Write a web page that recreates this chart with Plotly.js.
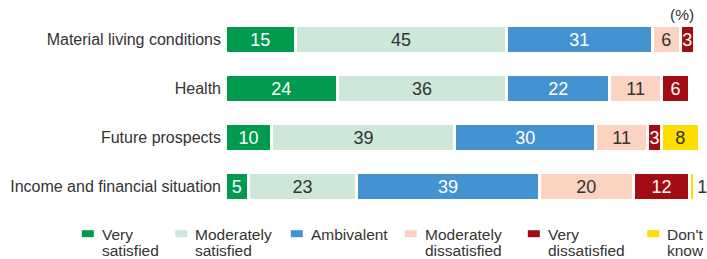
<!DOCTYPE html>
<html>
<head>
<meta charset="utf-8">
<script src="https://cdn.plot.ly/plotly-3.0.1.min.js"></script>
<style>html,body{margin:0;padding:0;background:#fff;}#chart{width:707px;height:259px;}</style>
</head>
<body>
<div id="chart"></div>
<script>
// ---- data ----
const categories = ['Material living conditions', 'Health', 'Future prospects', 'Income and financial situation'];
const seriesNames = ['Very<br>satisfied', 'Moderately<br>satisfied', 'Ambivalent', 'Moderately<br>dissatisfied', 'Very<br>dissatisfied', "Don't<br>know"];
const verySatisfied = [15, 24, 10, 5];
const moderatelySatisfied = [45, 36, 39, 23];
const ambivalent = [31, 22, 30, 39];
const moderatelyDissatisfied = [6, 11, 11, 20];
const veryDissatisfied = [3, 6, 3, 12];
const dontKnow = [null, null, 8, 1];
const unitLabel = '(%)';

// ---- styles ----
const colors = ['#009b4e', '#cde7d8', '#4493d1', '#fcd2c1', '#a20c12', '#ffdd00'];
const textColors = ['#ffffff', '#333333', '#ffffff', '#333333', '#ffffff', '#333333'];
const seriesValues = [verySatisfied, moderatelySatisfied, ambivalent, moderatelyDissatisfied, veryDissatisfied, dontKnow];

const W = 707, H = 259;
const xMax = 101;
const pxPerUnit = 4.693;
const M = {l: 225.2, t: 15.25, b: 48.15};
M.r = W - M.l - xMax * pxPerUnit;
const plotW = W - M.l - M.r, plotH = H - M.t - M.b;
const px2x = p => (p - M.l) / plotW;
const px2y = p => (H - M.b - p) / plotH;

const traces = seriesValues.map((vals, i) => ({
  type: 'bar',
  orientation: 'h',
  name: seriesNames[i],
  y: categories,
  x: vals,
  marker: {color: colors[i], line: {color: '#ffffff', width: 3}},
  text: vals.map(v => v == null ? '' : String(v)),
  textposition: i === 5 ? vals.map(v => (v != null && v < 3) ? 'outside' : 'inside') : 'inside',
  insidetextanchor: 'middle',
  constraintext: 'none',
  textfont: {family: 'Arial, Liberation Sans, sans-serif', size: 18, color: textColors[i]},
  outsidetextfont: {family: 'Arial, Liberation Sans, sans-serif', size: 18, color: '#333333'},
  cliponaxis: false,
  showlegend: false,
  hoverinfo: 'skip'
}));

// manual legend (small rectangles + two-line text)
const legendX = [82, 175.5, 291, 405, 528, 647.5];
const shapes = [];
const annotations = [];
seriesNames.forEach((nm, i) => {
  shapes.push({type: 'rect', xref: 'paper', yref: 'paper',
    x0: px2x(legendX[i]), x1: px2x(legendX[i] + 12),
    y0: px2y(230), y1: px2y(237),
    fillcolor: colors[i], line: {width: 0}});
  nm.split('<br>').forEach((line, j) => {
    annotations.push({xref: 'paper', yref: 'paper', x: px2x(legendX[i] + 18), y: px2y(234.3 + j * 15.5),
      xanchor: 'left', yanchor: 'middle', text: line, showarrow: false,
      font: {family: 'Arial, Liberation Sans, sans-serif', size: 15.5, color: '#333333'}});
  });
});
annotations.push({xref: 'paper', yref: 'paper', x: px2x(696), y: px2y(14.5), xanchor: 'right', yanchor: 'middle',
  text: unitLabel, showarrow: false, font: {family: 'Arial, Liberation Sans, sans-serif', size: 15.5, color: '#333333'}});

const layout = {
  width: W, height: H,
  margin: M,
  barmode: 'stack',
  bargap: 0.41,
  paper_bgcolor: '#ffffff', plot_bgcolor: '#ffffff',
  showlegend: false,
  xaxis: {range: [0, xMax], visible: false, fixedrange: true},
  yaxis: {autorange: 'reversed', showgrid: false, zeroline: false, showline: false, ticks: '',
    ticklabelstandoff: 3,
    tickfont: {family: 'Arial, Liberation Sans, sans-serif', size: 16, color: '#333333'}, fixedrange: true},
  shapes: shapes,
  annotations: annotations,
  font: {family: 'Arial, Liberation Sans, sans-serif'}
};

Plotly.newPlot('chart', traces, layout, {displayModeBar: false, staticPlot: true});
</script>
</body>
</html>
